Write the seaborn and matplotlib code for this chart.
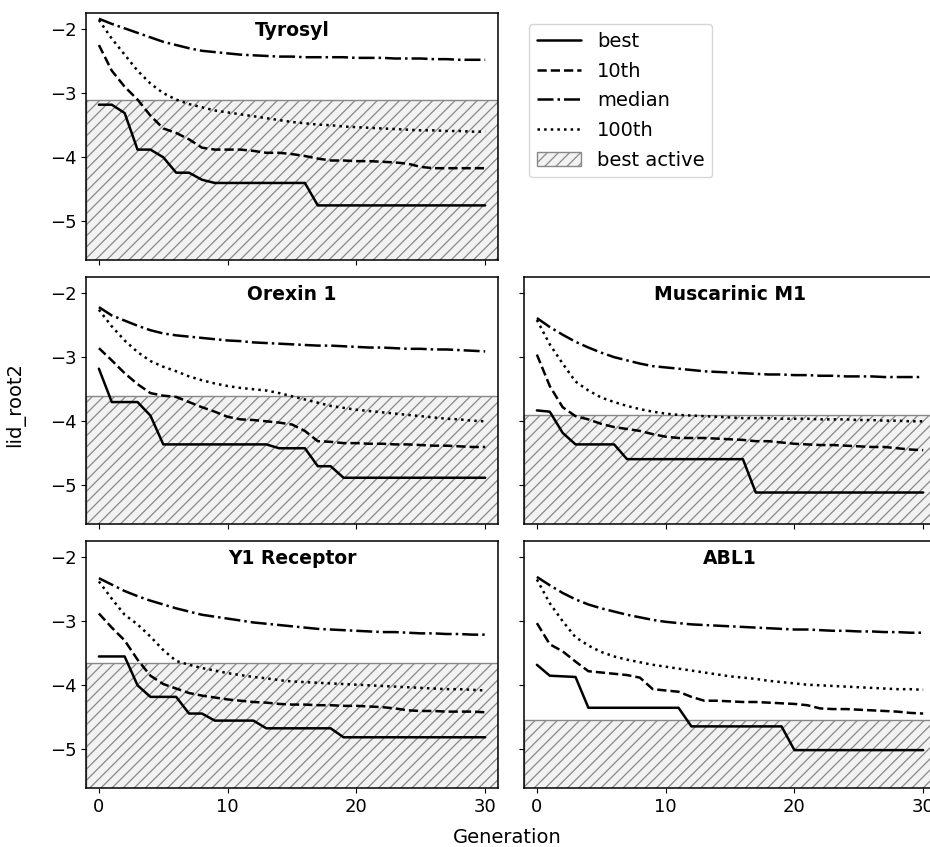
import matplotlib.pyplot as plt
import seaborn as sns
import numpy as np
import pandas as pd
from matplotlib.lines import Line2D
from matplotlib.patches import Patch

# ---- data ----
generations = list(range(31))
targets = ['Tyrosyl', 'Orexin 1', 'Muscarinic M1', 'Y1 Receptor', 'ABL1']
best_active = [-3.10, -3.60, -3.90, -3.65, -4.54]

tyrosyl_best = [-3.18, -3.18, -3.31, -3.88, -3.88, -4.00, -4.24, -4.24, -4.35, -4.40,
                -4.40, -4.40, -4.40, -4.40, -4.40, -4.40, -4.40, -4.75, -4.75, -4.75,
                -4.75, -4.75, -4.75, -4.75, -4.75, -4.75, -4.75, -4.75, -4.75, -4.75, -4.75]
tyrosyl_10th = [-2.25, -2.65, -2.90, -3.10, -3.35, -3.55, -3.62, -3.72, -3.85, -3.88,
                -3.88, -3.88, -3.90, -3.93, -3.93, -3.95, -3.98, -4.02, -4.05, -4.05,
                -4.06, -4.06, -4.07, -4.08, -4.10, -4.15, -4.17, -4.17, -4.17, -4.17, -4.17]
tyrosyl_median = [-1.84, -1.92, -1.99, -2.06, -2.13, -2.20, -2.25, -2.30, -2.34, -2.36,
                  -2.38, -2.40, -2.41, -2.42, -2.43, -2.43, -2.44, -2.44, -2.44, -2.44,
                  -2.45, -2.45, -2.45, -2.46, -2.46, -2.46, -2.47, -2.47, -2.48, -2.48, -2.48]
tyrosyl_100th = [-1.86, -2.15, -2.40, -2.65, -2.85, -3.00, -3.10, -3.17, -3.22, -3.27,
                 -3.30, -3.33, -3.36, -3.39, -3.42, -3.45, -3.47, -3.49, -3.50, -3.52,
                 -3.53, -3.54, -3.55, -3.56, -3.57, -3.58, -3.58, -3.59, -3.59, -3.60, -3.60]

orexin_best = [-3.18, -3.70, -3.70, -3.70, -3.91, -4.36, -4.36, -4.36, -4.36, -4.36,
               -4.36, -4.36, -4.36, -4.36, -4.42, -4.42, -4.42, -4.70, -4.70, -4.88,
               -4.88, -4.88, -4.88, -4.88, -4.88, -4.88, -4.88, -4.88, -4.88, -4.88, -4.88]
orexin_10th = [-2.86, -3.05, -3.25, -3.42, -3.56, -3.60, -3.62, -3.70, -3.78, -3.85,
               -3.93, -3.97, -3.98, -4.00, -4.02, -4.05, -4.15, -4.31, -4.32, -4.34,
               -4.34, -4.35, -4.35, -4.36, -4.36, -4.37, -4.38, -4.38, -4.39, -4.40, -4.40]
orexin_median = [-2.22, -2.35, -2.43, -2.51, -2.58, -2.63, -2.66, -2.68, -2.70, -2.72,
                 -2.74, -2.75, -2.77, -2.78, -2.79, -2.80, -2.81, -2.82, -2.82, -2.83,
                 -2.84, -2.85, -2.85, -2.86, -2.87, -2.87, -2.88, -2.88, -2.89, -2.90, -2.91]
orexin_100th = [-2.26, -2.52, -2.74, -2.92, -3.06, -3.15, -3.22, -3.30, -3.36, -3.41,
                -3.45, -3.48, -3.50, -3.52, -3.56, -3.61, -3.66, -3.71, -3.76, -3.79,
                -3.82, -3.84, -3.86, -3.88, -3.90, -3.92, -3.94, -3.96, -3.97, -3.99, -4.00]

muscarinic_best = [-3.83, -3.85, -4.18, -4.36, -4.36, -4.36, -4.36, -4.59, -4.59, -4.59,
                   -4.59, -4.59, -4.59, -4.59, -4.59, -4.59, -4.59, -5.11, -5.11, -5.11,
                   -5.11, -5.11, -5.11, -5.11, -5.11, -5.11, -5.11, -5.11, -5.11, -5.11, -5.11]
muscarinic_10th = [-2.96, -3.45, -3.78, -3.92, -3.97, -4.04, -4.09, -4.12, -4.15, -4.20,
                   -4.24, -4.26, -4.26, -4.26, -4.27, -4.28, -4.29, -4.31, -4.31, -4.33,
                   -4.35, -4.36, -4.37, -4.37, -4.38, -4.39, -4.40, -4.40, -4.42, -4.44, -4.45]
muscarinic_median = [-2.39, -2.53, -2.65, -2.76, -2.85, -2.93, -3.00, -3.05, -3.10, -3.14,
                     -3.16, -3.18, -3.20, -3.22, -3.23, -3.24, -3.25, -3.26, -3.27, -3.27,
                     -3.28, -3.28, -3.29, -3.29, -3.30, -3.30, -3.30, -3.31, -3.31, -3.31, -3.31]
muscarinic_100th = [-2.42, -2.80, -3.10, -3.38, -3.52, -3.63, -3.70, -3.76, -3.81, -3.85,
                    -3.88, -3.90, -3.91, -3.92, -3.93, -3.94, -3.95, -3.95, -3.95, -3.96,
                    -3.96, -3.96, -3.97, -3.97, -3.97, -3.98, -3.98, -3.99, -3.99, -4.00, -4.00]

y1_best = [-3.55, -3.55, -3.55, -4.00, -4.18, -4.18, -4.18, -4.44, -4.44, -4.55,
           -4.55, -4.55, -4.55, -4.67, -4.67, -4.67, -4.67, -4.67, -4.67, -4.81,
           -4.81, -4.81, -4.81, -4.81, -4.81, -4.81, -4.81, -4.81, -4.81, -4.81, -4.81]
y1_10th = [-2.88, -3.10, -3.30, -3.60, -3.85, -3.98, -4.05, -4.12, -4.16, -4.19,
           -4.22, -4.24, -4.26, -4.27, -4.29, -4.30, -4.30, -4.31, -4.31, -4.32,
           -4.32, -4.33, -4.34, -4.36, -4.39, -4.40, -4.40, -4.41, -4.41, -4.41, -4.42]
y1_median = [-2.33, -2.43, -2.53, -2.61, -2.68, -2.74, -2.80, -2.85, -2.90, -2.93,
             -2.96, -2.99, -3.02, -3.04, -3.06, -3.08, -3.10, -3.12, -3.13, -3.14,
             -3.15, -3.16, -3.17, -3.17, -3.18, -3.19, -3.19, -3.20, -3.20, -3.21, -3.21]
y1_100th = [-2.38, -2.65, -2.90, -3.05, -3.24, -3.45, -3.62, -3.68, -3.73, -3.77,
            -3.81, -3.84, -3.87, -3.89, -3.92, -3.94, -3.95, -3.96, -3.97, -3.98,
            -3.99, -4.00, -4.01, -4.02, -4.03, -4.04, -4.05, -4.06, -4.06, -4.07, -4.08]

abl1_best = [-3.68, -3.85, -3.86, -3.87, -4.35, -4.35, -4.35, -4.35, -4.35, -4.35,
             -4.35, -4.35, -4.64, -4.64, -4.64, -4.64, -4.64, -4.64, -4.64, -4.64,
             -5.01, -5.01, -5.01, -5.01, -5.01, -5.01, -5.01, -5.01, -5.01, -5.01, -5.01]
abl1_10th = [-3.03, -3.36, -3.47, -3.63, -3.78, -3.80, -3.82, -3.84, -3.88, -4.06,
             -4.08, -4.10, -4.18, -4.24, -4.24, -4.25, -4.26, -4.26, -4.27, -4.28,
             -4.29, -4.31, -4.36, -4.37, -4.37, -4.38, -4.39, -4.40, -4.41, -4.43, -4.44]
abl1_median = [-2.31, -2.44, -2.56, -2.66, -2.74, -2.80, -2.85, -2.90, -2.94, -2.98,
               -3.01, -3.03, -3.05, -3.06, -3.07, -3.08, -3.09, -3.10, -3.11, -3.12,
               -3.13, -3.13, -3.14, -3.15, -3.15, -3.16, -3.16, -3.17, -3.17, -3.18, -3.18]
abl1_100th = [-2.35, -2.72, -3.00, -3.25, -3.38, -3.48, -3.55, -3.60, -3.64, -3.68,
              -3.71, -3.74, -3.77, -3.80, -3.83, -3.86, -3.88, -3.90, -3.93, -3.95,
              -3.97, -3.99, -4.00, -4.01, -4.02, -4.03, -4.04, -4.05, -4.06, -4.06, -4.07]

series_names = ['best', '10th', 'median', '100th']
series_styles = {'best': '-', '10th': '--', 'median': '-.', '100th': ':'}

target_series = {
    'Tyrosyl': [tyrosyl_best, tyrosyl_10th, tyrosyl_median, tyrosyl_100th],
    'Orexin 1': [orexin_best, orexin_10th, orexin_median, orexin_100th],
    'Muscarinic M1': [muscarinic_best, muscarinic_10th, muscarinic_median, muscarinic_100th],
    'Y1 Receptor': [y1_best, y1_10th, y1_median, y1_100th],
    'ABL1': [abl1_best, abl1_10th, abl1_median, abl1_100th],
}

# long table for seaborn
rows = []
for t, vals in target_series.items():
    for name, ys in zip(series_names, vals):
        for g, v in zip(generations, ys):
            rows.append({'Target': t, 'Series': name, 'Generation': g, 'lid_root2': v})
df = pd.DataFrame(rows)

sns.set_style('ticks')
plt.rcParams.update({
    'font.family': ['DejaVu Sans'],
    'font.size': 13,
    'xtick.labelsize': 13,
    'ytick.labelsize': 13,
    'axes.labelsize': 14,
    'axes.edgecolor': 'black',
    'axes.linewidth': 1.1,
    'text.color': 'black',
    'axes.labelcolor': 'black',
    'xtick.color': 'black',
    'ytick.color': 'black',
    'hatch.linewidth': 0.9,
})

fig, axes = plt.subplots(3, 2, sharex=True, sharey=True, figsize=(9.3, 8.47), dpi=100)
fig.subplots_adjust(left=0.0925, right=1.0065, top=0.9847, bottom=0.0697,
                    wspace=0.063, hspace=0.069)

panel_axes = [axes[0, 0], axes[1, 0], axes[1, 1], axes[2, 0], axes[2, 1]]
lw = 1.8
fill_col = '#f2f2f2'
hatch_col = '#888888'

for ax, t, ba in zip(panel_axes, targets, best_active):
    ax.axhspan(-6.0, ba, facecolor=fill_col, edgecolor=hatch_col, hatch='///',
               linewidth=1.0, zorder=0)
    sub = df[df['Target'] == t]
    for name in series_names:
        s = sub[sub['Series'] == name]
        sns.lineplot(data=s, x='Generation', y='lid_root2', ax=ax, color='black',
                     linewidth=lw, linestyle=series_styles[name], legend=False,
                     errorbar=None, zorder=3)
    ax.set_title(t, fontweight='bold', fontsize=13.5, y=0.873)
    ax.set_xlabel('')
    ax.set_ylabel('')

ax_leg = axes[0, 1]
ax_leg.axis('off')

ax0 = axes[0, 0]
ax0.set_xlim(-1.0, 31.0)
ax0.set_ylim(-5.6, -1.75)
ax0.set_xticks([0, 10, 20, 30])
ax0.set_yticks([-2, -3, -4, -5])

axes[1, 0].set_ylabel('lid_root2')
axes[1, 0].yaxis.set_label_coords(-0.148, 0.485)
fig.text(0.545, 0.0, 'Generation', ha='center', va='bottom', fontsize=14)

handles = [Line2D([0], [0], color='black', lw=lw, linestyle=series_styles[n], label=n)
           for n in series_names]
handles.append(Patch(facecolor=fill_col, edgecolor=hatch_col, hatch='///', label='best active'))
ax_leg.legend(handles=handles, loc='upper left', bbox_to_anchor=(0.012, 0.955),
              borderaxespad=0, frameon=True, fontsize=14, handlelength=2.3,
              labelspacing=0.55)

plt.savefig('out.png', dpi=100)
plt.close()
